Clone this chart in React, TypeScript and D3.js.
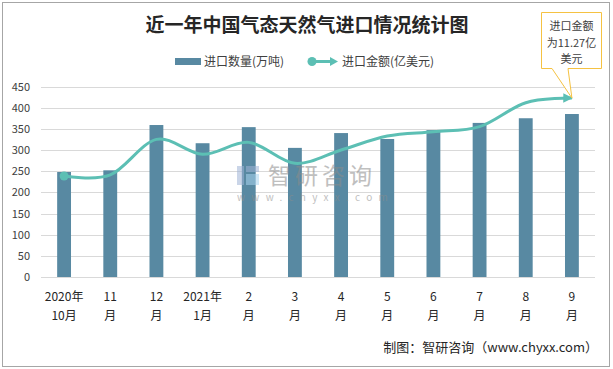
import { useEffect, useRef } from 'react';
import * as d3 from 'd3';

// x categories, two lines each
const monthTop = ['2020年', '11', '12', '2021年', '2', '3', '4', '5', '6', '7', '8', '9'];
const monthBottom = ['10月', '月', '月', '1月', '月', '月', '月', '月', '月', '月', '月', '月'];

// 进口数量(万吨)
const volume = [248, 252, 359, 316, 354, 305, 340, 326, 347, 364, 375, 385];
// 进口金额(亿美元), plotted on a hidden secondary axis
const amount = [6.36, 6.43, 8.67, 7.73, 8.48, 7.16, 8.0, 8.88, 9.15, 9.47, 10.98, 11.27];

const yTicks = [0, 50, 100, 150, 200, 250, 300, 350, 400, 450];

const W = 613;
const H = 369;
const FONT = '"Noto Sans CJK SC", "Noto Sans", sans-serif';

export default function App() {
  const svgRef = useRef<SVGSVGElement>(null);

  useEffect(() => {
    if (!svgRef.current) return;
    const svg = d3.select(svgRef.current);
    svg.selectAll('*').remove();

    const margin = { top: 86.5, bottom: 277, left: 41, right: 595 };

    const x = d3.scaleBand<number>()
      .domain(d3.range(volume.length))
      .range([margin.left, margin.right])
      .paddingInner(0.7)
      .paddingOuter(0.35);

    const y = d3.scaleLinear().domain([0, 450]).range([margin.bottom, margin.top]);
    const y2 = d3.scaleLinear().domain([0, 12]).range([margin.bottom, margin.top]);

    // frame
    svg.append('rect')
      .attr('x', 2.5).attr('y', 2.5)
      .attr('width', W - 6).attr('height', H - 5)
      .attr('fill', '#fff')
      .attr('stroke', '#a6a6a6');

    // title
    svg.append('text')
      .attr('x', 307).attr('y', 32)
      .attr('text-anchor', 'middle')
      .style('font-family', FONT)
      .style('font-size', '19px')
      .style('font-weight', 'bold')
      .style('fill', '#262626')
      .text('近一年中国气态天然气进口情况统计图');

    // legend
    const lg = svg.append('g').style('font-family', FONT).style('font-size', '12px').style('fill', '#404040');
    lg.append('rect').attr('x', 175).attr('y', 58).attr('width', 26).attr('height', 7).attr('fill', '#5889a2');
    lg.append('text').attr('x', 204).attr('y', 65.5).text('进口数量(万吨)');
    lg.append('line').attr('x1', 312).attr('x2', 332).attr('y1', 61.5).attr('y2', 61.5)
      .attr('stroke', '#5cbfb4').attr('stroke-width', 3);
    lg.append('circle').attr('cx', 312).attr('cy', 61.5).attr('r', 4.5).attr('fill', '#5cbfb4');
    lg.append('path').attr('d', 'M330,57 L338,61.5 L330,66 Z').attr('fill', '#5cbfb4');
    lg.append('text').attr('x', 342).attr('y', 65.5).text('进口金额(亿美元)');

    // grid
    svg.append('g')
      .selectAll('line')
      .data(yTicks)
      .join('line')
      .attr('x1', margin.left).attr('x2', margin.right)
      .attr('y1', d => Math.round(y(d)) + 0.5).attr('y2', d => Math.round(y(d)) + 0.5)
      .attr('stroke', '#d9d9d9');

    // y axis labels
    svg.append('g')
      .selectAll('text')
      .data(yTicks)
      .join('text')
      .attr('x', 30)
      .attr('y', d => y(d) + 4)
      .attr('text-anchor', 'end')
      .style('font-family', FONT)
      .style('font-size', '11px')
      .style('fill', '#404040')
      .text(d => d);

    // bars
    svg.append('g')
      .selectAll('rect')
      .data(volume)
      .join('rect')
      .attr('x', (_, i) => x(i)!)
      .attr('y', d => y(d))
      .attr('width', x.bandwidth())
      .attr('height', d => y(0) - y(d))
      .attr('fill', '#5889a2');

    // x labels
    const xl = svg.append('g').style('font-family', FONT).style('font-size', '12px').style('fill', '#262626');
    xl.selectAll('text.top')
      .data(monthTop)
      .join('text')
      .attr('class', 'top')
      .attr('x', (_, i) => x(i)! + x.bandwidth() / 2)
      .attr('y', 301)
      .attr('text-anchor', 'middle')
      .text(d => d);
    xl.selectAll('text.bot')
      .data(monthBottom)
      .join('text')
      .attr('class', 'bot')
      .attr('x', (_, i) => x(i)! + x.bandwidth() / 2)
      .attr('y', 320)
      .attr('text-anchor', 'middle')
      .text(d => d);

    // watermark
    const wm = svg.append('g').attr('opacity', 0.55);
    wm.append('rect').attr('x', 237).attr('y', 166).attr('width', 7).attr('height', 19).attr('fill', '#9fb4d6');
    wm.append('rect').attr('x', 246).attr('y', 166).attr('width', 13).attr('height', 6).attr('fill', '#9fb4d6');
    wm.append('rect').attr('x', 246).attr('y', 174).attr('width', 13).attr('height', 11).attr('fill', '#a9d4f0');
    wm.append('text').attr('x', 268).attr('y', 184)
      .style('font-family', FONT).style('font-size', '23px').style('letter-spacing', '4px')
      .style('fill', '#8c8c8c').text('智研咨询');
    wm.append('text').attr('x', 237).attr('y', 201)
      .style('font-family', FONT).style('font-size', '10px').style('letter-spacing', '6.3px')
      .style('fill', '#8c8c8c').text('www.chyxx.com');

    // line
    const defs = svg.append('defs');
    defs.append('marker')
      .attr('id', 'arrow')
      .attr('viewBox', '0 0 10 10')
      .attr('refX', 9).attr('refY', 5)
      .attr('markerWidth', 3.2).attr('markerHeight', 3.2)
      .attr('markerUnits', 'strokeWidth')
      .attr('orient', 'auto')
      .append('path').attr('d', 'M0,0 L10,5 L0,10 Z').attr('fill', '#5cbfb4');

    const line = d3.line<number>()
      .x((_, i) => x(i)! + x.bandwidth() / 2)
      .y(d => y2(d))
      .curve(d3.curveCatmullRom.alpha(0));

    svg.append('path')
      .datum(amount)
      .attr('d', line)
      .attr('fill', 'none')
      .attr('stroke', '#5cbfb4')
      .attr('stroke-width', 3)
      .attr('marker-end', 'url(#arrow)');

    svg.append('circle')
      .attr('cx', x(0)! + x.bandwidth() / 2)
      .attr('cy', y2(amount[0]))
      .attr('r', 4.5)
      .attr('fill', '#5cbfb4');

    // callout
    const last = amount.length - 1;
    const tipX = x(last)! + x.bandwidth() / 2;
    const tipY = y2(amount[last]);
    svg.append('path')
      .attr('d', `M541.5,12.5 H601.5 V68.5 H568 L${tipX},${tipY} L552,68.5 H541.5 Z`)
      .attr('fill', '#fff')
      .attr('stroke', '#f5c242');
    const co = svg.append('g').style('font-family', FONT).style('font-size', '11px').style('fill', '#404040')
      .attr('text-anchor', 'middle');
    co.append('text').attr('x', 571.5).attr('y', 30).text('进口金额');
    co.append('text').attr('x', 571.5).attr('y', 47).text('为11.27亿');
    co.append('text').attr('x', 571.5).attr('y', 63).text('美元');

    // footer
    svg.append('text')
      .attr('x', 598).attr('y', 352)
      .attr('text-anchor', 'end')
      .style('font-family', FONT)
      .style('font-size', '13px')
      .style('fill', '#262626')
      .text('制图：智研咨询（www.chyxx.com）');
  }, []);

  return (
    <svg
      ref={svgRef}
      width={W}
      height={H}
      style={{ position: 'absolute', left: 0, top: 0, background: '#fff' }}
    />
  );
}
